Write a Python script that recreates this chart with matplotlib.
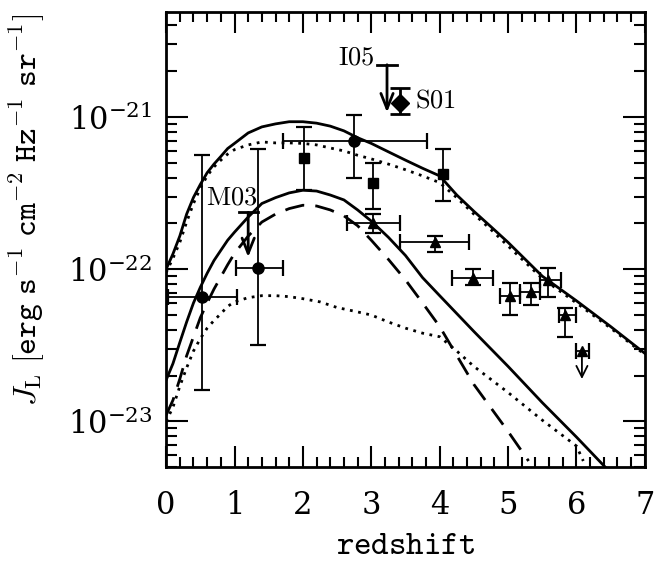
import matplotlib
matplotlib.use('Agg')
import matplotlib.pyplot as plt
import numpy as np
from matplotlib.ticker import LogLocator, MultipleLocator, NullFormatter, FixedLocator

plt.rcParams['mathtext.fontset'] = 'cm'
plt.rcParams['font.family'] = 'serif'
plt.rcParams['font.serif'] = ['DejaVu Serif']

# model curves
z_up = [0, 0.1, 0.2, 0.3, 0.4, 0.5, 0.6, 0.7, 0.8, 0.9, 1.0, 1.2, 1.4, 1.6, 1.8, 2.0,
        2.2, 2.4, 2.6, 2.8, 3.0, 3.25, 3.5, 3.75, 4.0, 4.25, 4.5, 4.75, 5.0, 5.5, 6.0, 6.5, 7.0]
upper_solid = [1.0e-22, 1.26e-22, 1.65e-22, 2.3e-22, 2.96e-22, 3.6e-22, 4.3e-22, 4.9e-22,
               5.5e-22, 6.2e-22, 6.7e-22, 7.85e-22, 8.6e-22, 9.0e-22, 9.3e-22, 9.3e-22,
               9.1e-22, 8.7e-22, 8.1e-22, 7.3e-22, 6.7e-22, 5.9e-22, 5.2e-22, 4.6e-22,
               4.1e-22, 3.07e-22, 2.4e-22, 1.9e-22, 1.5e-22, 9.0e-23, 6.2e-23, 4.2e-23, 2.8e-23]
upper_dotted = [9.5e-23, 1.18e-22, 1.5e-22, 2.04e-22, 2.7e-22, 3.4e-22, 4.1e-22, 4.7e-22,
                5.2e-22, 5.7e-22, 6.1e-22, 6.55e-22, 6.85e-22, 6.75e-22, 6.75e-22, 6.7e-22,
                6.55e-22, 6.25e-22, 5.98e-22, 5.6e-22, 5.3e-22, 4.9e-22, 4.5e-22, 4.1e-22,
                3.7e-22, 2.95e-22, 2.3e-22, 1.82e-22, 1.42e-22, 8.7e-23, 6.0e-23, 4.1e-23, 2.75e-23]

z_lo = [0, 0.1, 0.2, 0.3, 0.4, 0.5, 0.6, 0.7, 0.8, 0.9, 1.0, 1.2, 1.4, 1.6, 1.8, 2.0,
        2.2, 2.4, 2.6, 2.8, 3.0, 3.25, 3.5, 3.75, 4.0, 4.5, 5.0, 5.5, 6.0, 6.5]
lower_solid = [1.87e-23, 2.4e-23, 3.3e-23, 4.5e-23, 6.0e-23, 7.6e-23, 9.4e-23, 1.14e-22,
               1.33e-22, 1.55e-22, 1.75e-22, 2.2e-22, 2.7e-22, 2.95e-22, 3.17e-22, 3.3e-22,
               3.26e-22, 3.07e-22, 2.85e-22, 2.45e-22, 2.07e-22, 1.62e-22, 1.23e-22, 8.8e-23,
               6.7e-23, 3.9e-23, 2.3e-23, 1.33e-23, 7.9e-24, 4.6e-24]

z_dash = [0, 0.1, 0.2, 0.3, 0.4, 0.5, 0.6, 0.7, 0.8, 0.9, 1.0, 1.2, 1.4, 1.6, 1.8, 2.0,
          2.2, 2.4, 2.6, 2.8, 3.0, 3.25, 3.5, 3.75, 4.0, 4.5, 5.0, 5.3]
lower_dashed = [1.1e-23, 1.38e-23, 1.9e-23, 2.7e-23, 3.6e-23, 4.8e-23, 6.0e-23, 7.4e-23,
                8.9e-23, 1.07e-22, 1.27e-22, 1.65e-22, 2.04e-22, 2.3e-22, 2.5e-22, 2.63e-22,
                2.6e-22, 2.45e-22, 2.24e-22, 1.93e-22, 1.55e-22, 1.16e-22, 8.5e-23, 6.0e-23,
                4.2e-23, 1.75e-23, 8.6e-24, 5.5e-24]

z_dot = [0, 0.1, 0.2, 0.3, 0.4, 0.5, 0.6, 0.7, 0.8, 0.9, 1.0, 1.2, 1.4, 1.6, 1.8, 2.0,
         2.25, 2.5, 2.75, 3.0, 3.25, 3.5, 3.75, 4.0, 4.25, 4.5, 5.0, 5.5, 6.0, 6.1]
lower_dotted = [1.0e-23, 1.24e-23, 1.7e-23, 2.25e-23, 2.9e-23, 3.5e-23, 4.1e-23, 4.6e-23,
                5.1e-23, 5.7e-23, 6.1e-23, 6.5e-23, 6.7e-23, 6.7e-23, 6.6e-23, 6.4e-23,
                6.1e-23, 5.6e-23, 5.3e-23, 5.0e-23, 4.5e-23, 4.1e-23, 3.8e-23, 3.6e-23,
                2.9e-23, 2.3e-23, 1.55e-23, 1.02e-23, 6.9e-24, 5.5e-24]

# data points
circ_z = [0.53, 1.35, 2.75]
circ_zlo = [0.03, 1.02, 1.71]
circ_zhi = [1.03, 1.71, 3.82]
circ_j = [6.6e-23, 1.02e-22, 6.9e-22]
circ_jlo = [1.6e-23, 3.2e-23, 4.0e-22]
circ_jhi = [5.6e-22, 6.2e-22, 1.03e-21]

sq_z = [2.02, 3.02, 4.05]
sq_j = [5.4e-22, 3.7e-22, 4.2e-22]
sq_jlo = [3.3e-22, 2.5e-22, 2.8e-22]
sq_jhi = [8.6e-22, 5.0e-22, 6.2e-22]

tri_z = [3.02, 3.93, 4.48, 5.03, 5.34, 5.58, 5.83]
tri_zlo = [2.65, 3.42, 4.18, 4.88, 5.18, 5.47, 5.74]
tri_zhi = [3.42, 4.43, 4.78, 5.18, 5.47, 5.78, 5.99]
tri_j = [2.0e-22, 1.5e-22, 8.7e-23, 6.7e-23, 7.1e-23, 8.5e-23, 5.0e-23]
tri_jlo = [1.74e-22, 1.29e-22, 7.9e-23, 5.0e-23, 5.8e-23, 6.6e-23, 3.6e-23]
tri_jhi = [2.3e-22, 1.66e-22, 1.0e-22, 8.1e-23, 8.1e-23, 1.02e-22, 5.6e-23]

# triangle upper limit at z~6
lim_tri_z = 6.08
lim_tri_zlo, lim_tri_zhi = 5.99, 6.18
lim_tri_j = 2.9e-23
lim_tri_tip = 1.9e-23

# labelled points
s01_z, s01_j, s01_jlo, s01_jhi = 3.42, 1.23e-21, 1.05e-21, 1.55e-21
i05_z, i05_j, i05_tip = 3.23, 2.2e-21, 1.07e-21
m03_z, m03_j, m03_tip = 1.20, 2.36e-22, 1.2e-22

y_major = [1e-23, 1e-22, 1e-21]

fig = plt.figure(figsize=(6.54, 5.63), dpi=100)
ax = fig.add_axes([0.254, 0.170, 0.732, 0.809])

lw = 2.0
ax.plot(z_up, upper_solid, color='k', lw=lw)
ax.plot(z_up, upper_dotted, color='k', lw=lw, ls=(0, (1, 2)))
ax.plot(z_lo, lower_solid, color='k', lw=lw)
ax.plot(z_dash, lower_dashed, color='k', lw=lw, ls=(0, (7, 4)))
ax.plot(z_dot, lower_dotted, color='k', lw=lw, ls=(0, (1, 2)))

eb = dict(fmt='none', ecolor='k', elinewidth=1.3, capsize=6, capthick=1.6)

ax.errorbar(circ_z, circ_j,
            xerr=[np.subtract(circ_z, circ_zlo), np.subtract(circ_zhi, circ_z)],
            yerr=[np.subtract(circ_j, circ_jlo), np.subtract(circ_jhi, circ_j)], **eb)
ax.plot(circ_z, circ_j, 'o', color='k', ms=8)

ax.errorbar(sq_z, sq_j, yerr=[np.subtract(sq_j, sq_jlo), np.subtract(sq_jhi, sq_j)], **eb)
ax.plot(sq_z, sq_j, 's', color='k', ms=6.5)

ax.errorbar(tri_z, tri_j,
            xerr=[np.subtract(tri_z, tri_zlo), np.subtract(tri_zhi, tri_z)],
            yerr=[np.subtract(tri_j, tri_jlo), np.subtract(tri_jhi, tri_j)], **eb)
ax.plot(tri_z, tri_j, '^', color='k', ms=7.5)

ax.errorbar([lim_tri_z], [lim_tri_j],
            xerr=[[lim_tri_z - lim_tri_zlo], [lim_tri_zhi - lim_tri_z]], **eb)
ax.plot([lim_tri_z], [lim_tri_j], '^', color='k', ms=7.5)

ax.errorbar([s01_z], [s01_j], yerr=[[s01_j - s01_jlo], [s01_jhi - s01_j]],
            fmt='none', ecolor='k', elinewidth=2, capsize=7, capthick=2)
ax.plot([s01_z], [s01_j], 'D', color='k', ms=9)

arrow = dict(arrowstyle='->,head_length=0.55,head_width=0.22', color='k', lw=2,
             shrinkA=0, shrinkB=0, mutation_scale=20)
for zz, top, tip in [(i05_z, i05_j, i05_tip), (m03_z, m03_j, m03_tip)]:
    ax.annotate('', xy=(zz, tip), xytext=(zz, top), arrowprops=arrow)
    ax.plot([zz - 0.14, zz + 0.14], [top, top], color='k', lw=2)
ax.annotate('', xy=(lim_tri_z, lim_tri_tip), xytext=(lim_tri_z, lim_tri_j),
            arrowprops=dict(arrowstyle='->,head_length=0.4,head_width=0.2', color='k',
                            lw=1.3, shrinkA=0, shrinkB=0, mutation_scale=20))

ax.text(3.05, 2.2e-21, r'$\mathrm{I05}$', fontsize=19, ha='right', va='baseline')
ax.text(3.64, 1.3e-21, r'$\mathrm{S01}$', fontsize=19, ha='left', va='center')
ax.text(0.58, 3.0e-22, r'$\mathrm{M03}$', fontsize=19, ha='left', va='center')

ax.set_yscale('log')
ax.set_xlim(0, 7)
ax.set_ylim(5e-24, 4.9e-21)

ax.xaxis.set_major_locator(MultipleLocator(1))
ax.xaxis.set_minor_locator(MultipleLocator(0.2))
ax.yaxis.set_major_locator(FixedLocator(y_major))
ax.yaxis.set_minor_locator(LogLocator(base=10, subs=np.arange(2, 10), numticks=20))
ax.yaxis.set_minor_formatter(NullFormatter())

ax.tick_params(which='both', direction='in', top=True, right=True, colors='k')
ax.tick_params(axis='x', which='major', length=15, width=1.5, labelsize=22, pad=16)
ax.tick_params(axis='x', which='minor', length=7, width=1.5)
ax.tick_params(axis='y', which='major', length=16, width=1.5, labelsize=22, pad=10)
ax.tick_params(axis='y', which='minor', length=8, width=1.5)
for s in ax.spines.values():
    s.set_linewidth(2)

ax.set_xlabel(r'$\mathtt{redshift}$', fontsize=24, labelpad=6)
ax.set_ylabel(r'$J_{\rm L}\ \mathtt{[erg\ s^{-1}\ cm^{-2}\ Hz^{-1}\ sr^{-1}]}$', fontsize=23)
ax.yaxis.set_label_coords(-0.248, 0.565)

fig.savefig('out.png', dpi=100)
